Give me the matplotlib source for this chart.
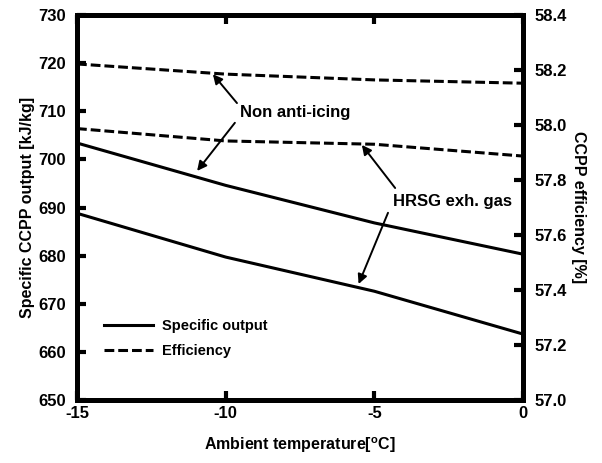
import numpy as np
import matplotlib
matplotlib.use('Agg')
import matplotlib.pyplot as plt

plt.rcParams['font.family'] = ['Liberation Sans', 'DejaVu Sans']
plt.rcParams['font.weight'] = 'bold'
plt.rcParams['mathtext.default'] = 'regular'
plt.rcParams['axes.unicode_minus'] = False

# ambient temperature [C]
temp = [-15, -10, -5, 0]

# specific CCPP output [kJ/kg]
output_non_anti = [703.4, 694.6, 686.8, 680.3]
output_hrsg = [688.8, 679.7, 672.6, 663.7]

# CCPP efficiency [%]
eff_non_anti = [58.222, 58.185, 58.164, 58.152]
eff_hrsg = [57.987, 57.942, 57.930, 57.887]

fig = plt.figure(figsize=(6.02, 4.63), dpi=100)
ax = fig.add_axes([77/602, 1 - 400/463, (523-77)/602, (400-15)/463])
ax2 = ax.twinx()

lw = 2.2
ax.plot(temp, output_non_anti, 'k-', lw=lw, solid_capstyle='butt')
ax.plot(temp, output_hrsg, 'k-', lw=lw, solid_capstyle='butt')
ax2.plot(temp, eff_non_anti, 'k', lw=lw, dashes=(3.2, 1.3), dash_capstyle='butt')
ax2.plot(temp, eff_hrsg, 'k', lw=lw, dashes=(3.2, 1.3), dash_capstyle='butt')

ax.set_xlim(-15, 0)
ax.set_ylim(650, 730)
ax2.set_ylim(57.0, 58.4)
ax.set_xticks([-15, -10, -5, 0])
ax.set_yticks(np.arange(650, 731, 10))
ax2.set_yticks(np.arange(57.0, 58.41, 0.2))
ax2.set_yticklabels([f'{v:.1f}' for v in np.arange(57.0, 58.41, 0.2)])

for a in (ax, ax2):
    for s in a.spines.values():
        s.set_linewidth(3.6)
    a.tick_params(direction='in', length=6.5, width=3.0, labelsize=12, pad=8)
ax.tick_params(axis='x', top=True, pad=4)

ax.set_xlabel('Ambient temperature[$^o$C]', fontsize=11.5, fontweight='bold', labelpad=11)
ax.set_ylabel('Specific CCPP output [kJ/kg]', fontsize=11.5, fontweight='bold', labelpad=2)
ax2.set_ylabel('CCPP efficiency [%]', fontsize=11.5, fontweight='bold', rotation=-90, labelpad=14)

# annotations
arrow = dict(arrowstyle='-|>', color='k', lw=1.4, mutation_scale=14, shrinkA=0, shrinkB=0)
ax.annotate('', xy=(-10.43, 717.7), xytext=(-9.62, 711.7), arrowprops=arrow)
ax.annotate('', xy=(-10.96, 697.6), xytext=(-9.69, 707.6), arrowprops=arrow)
ax.text(-9.52, 709.8, 'Non anti-icing', fontsize=12, fontweight='bold', va='center', ha='left')

ax.annotate('', xy=(-5.42, 703.0), xytext=(-4.30, 694.05), arrowprops=arrow)
ax.annotate('', xy=(-5.53, 674.1), xytext=(-4.54, 688.9), arrowprops=arrow)
ax.text(-4.37, 691.2, 'HRSG exh. gas', fontsize=12, fontweight='bold', va='center', ha='left')

# legend
ax.plot([], [], 'k-', lw=lw, label='Specific output')
ax.plot([], [], 'k', lw=lw, dashes=(3.2, 1.3), label='Efficiency')
ax.legend(loc='lower left', bbox_to_anchor=(0.03, 0.074), frameon=False,
          prop={'size': 10.5, 'weight': 'bold'}, handlelength=3.4, handletextpad=0.6,
          labelspacing=0.75)

fig.savefig('out.png', dpi=100)
